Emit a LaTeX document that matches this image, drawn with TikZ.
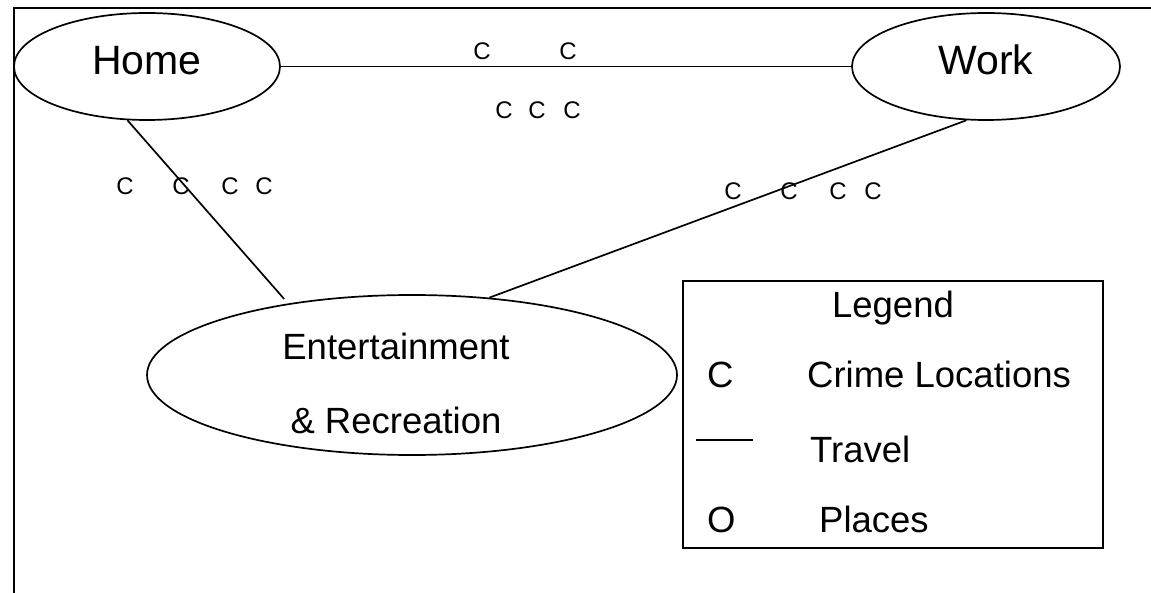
\documentclass[tikz,border=0pt]{standalone}
\usepackage{fontspec}
\setmainfont{Liberation Sans}
\usetikzlibrary{shapes.geometric}
\begin{document}
\begin{tikzpicture}[x=1pt,y=-1pt,
  place/.style={draw, ellipse, line width=1.7pt, inner sep=0pt},
  travel/.style={line width=1.7pt},
  frame/.style={line width=1.9pt},
  big/.style={font=\fontsize{41}{41}\selectfont, inner sep=0pt, anchor=base},
  mid/.style={font=\fontsize{36.5}{36.5}\selectfont, inner sep=0pt, anchor=base},
  midw/.style={font=\fontsize{36.5}{36.5}\selectfont, inner sep=0pt, anchor=base west},
  crime/.style={font=\fontsize{24}{24}\selectfont, inner sep=0pt},
]
\useasboundingbox (0,0) rectangle (1151,593);
% outer frame (top and left only)
\coordinate (fl) at (14,593);
\coordinate (ftl) at (14,8);
\coordinate (ftr) at (1151,8);
\draw[frame] (fl) -- (ftl) -- (ftr);

% places
\node[place, minimum width=266pt, minimum height=107pt] (home) at (147,66.5) {};
\node[place, minimum width=268pt, minimum height=107pt] (work) at (986,66.5) {};
\node[place, minimum width=530pt, minimum height=160pt] (ent) at (412,375) {};

\node[big] (homet) at (147,75) {Home};
\node[big] (workt) at (986,75) {Work};
\node[mid] (entt1) at (396,360) {Entertainment};
\node[mid] (entt2) at (396,433) {\& Recreation};

% travel
\draw[travel] (home.east) -- (work.west);
\draw[travel, shorten >=6pt] (home.250) -- (ent.150);
\draw[travel] (work.250) -- (ent.45);

% crime locations
\node[crime] (c1) at (482,51) {C};
\node[crime] (c2) at (568,51) {C};
\node[crime] (c3) at (504,110) {C};
\node[crime] (c4) at (537,110) {C};
\node[crime] (c5) at (572,110) {C};
\node[crime] (c6) at (125,186) {C};
\node[crime] (c7) at (181,186) {C};
\node[crime] (c8) at (230,186) {C};
\node[crime] (c9) at (264,186) {C};
\node[crime] (c10) at (733,191) {C};
\node[crime] (c11) at (789,191) {C};
\node[crime] (c12) at (838,191) {C};
\node[crime] (c13) at (873,191) {C};

% legend
\node[draw, frame, minimum width=420pt, minimum height=267pt, inner sep=0pt] (legend) at (893,414.5) {};
\node[mid] (lt) at (893,318) {Legend};
\node[midw] (lc) at (707,388) {C};
\node[midw] (lct) at (807,388) {Crime Locations};
\coordinate (ls1) at (696,440);
\coordinate (ls2) at (753,440);
\draw[line width=1.2pt] (ls1) -- (ls2);
\node[midw] (ltr) at (810,462) {Travel};
\node[midw] (lo) at (707,532) {O};
\node[midw] (lp) at (819,532) {Places};
\end{tikzpicture}
\end{document}
